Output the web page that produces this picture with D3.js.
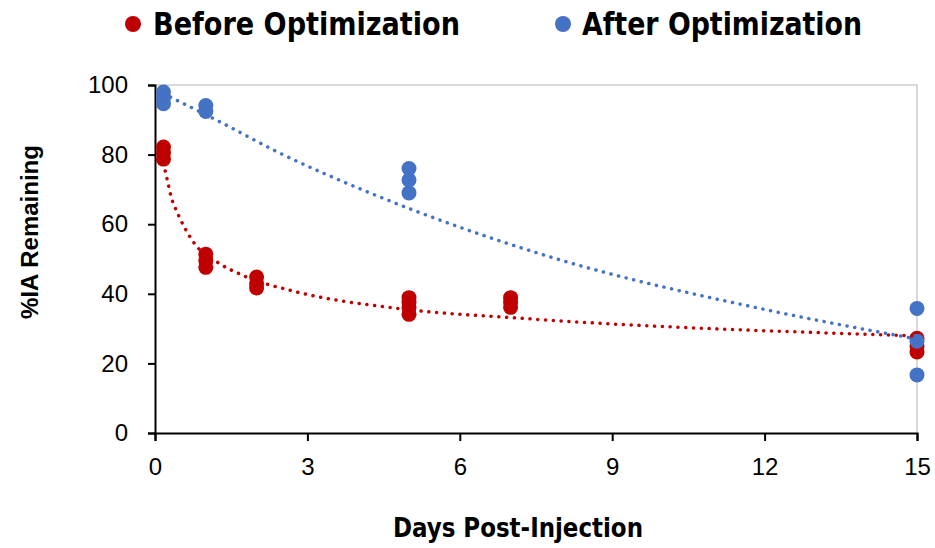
<!DOCTYPE html>
<html><head><meta charset="utf-8">
<script src="https://cdn.jsdelivr.net/npm/d3@7"></script>
<style>body{margin:0;background:#fff}svg{display:block}</style>
</head><body><svg id="c" width="935" height="548"></svg>
<script>
// Data points (days post-injection, %IA remaining)
const beforeX = [0.167,0.167,0.167, 1,1,1, 2,2,2, 5,5,5,5, 7,7,7, 15,15,15];
const beforeY = [82.2,80.5,78.7, 51.4,49.5,47.6, 44.8,43.0,41.7, 38.9,37.5,36.0,34.1, 38.9,37.5,36.1, 27.2,25.0,23.3];
const afterX  = [0.167,0.167,0.167, 1,1, 5,5,5, 15,15,15];
const afterY  = [98.0,96.3,94.6, 94.1,92.4, 76.0,72.7,69.0, 35.8,26.4,16.7];
// Trendlines (dotted fit curves)
const beforeTrendX = [0.167,0.26,0.33,0.39,0.77,1.28,1.71,2.8,4.72,7.38,14.37,15];
const beforeTrendY = [77.5,71.5,67.2,65.0,54.6,48.6,45.4,40.5,35.9,32.8,28.2,27.9];
const afterTrendX  = [0.167,1.28,2.42,4.23,7.78,12,15];
const afterTrendY  = [97.5,89.4,80.7,69.0,50.6,35.5,27.0];
const seriesNames = ["Before Optimization","After Optimization"];
const xTicks = [0,3,6,9,12,15];
const yTicks = [0,20,40,60,80,100];

const svg = d3.select("#c");
const m = {l:155, r:917, t:85, b:433};
const x = d3.scaleLinear().domain([0,15]).range([m.l,m.r]);
const y = d3.scaleLinear().domain([0,100]).range([m.b,m.t]);
const RED="#c00000", BLUE="#4472c4";
const NARROW="'Liberation Sans Narrow','Arial Narrow','DejaVu Sans Condensed',sans-serif";

// plot area border (top/right light grey)
svg.append("path").attr("d",`M${m.l},${m.t}H${m.r}V${m.b}`).attr("fill","none").attr("stroke","#d9d9d9").attr("stroke-width",2);

// axes
const gx = svg.append("g").attr("transform",`translate(0,${m.b})`)
  .call(d3.axisBottom(x).tickValues(xTicks).tickSize(8).tickPadding(17));
const gy = svg.append("g").attr("transform",`translate(${m.l},0)`)
  .call(d3.axisLeft(y).tickValues(yTicks).tickSize(7).tickPadding(20));
[gx,gy].forEach(g=>{
  g.select(".domain").attr("stroke","#000").attr("stroke-width",2);
  g.selectAll(".tick line").attr("stroke","#000").attr("stroke-width",2);
  g.selectAll(".tick text").attr("font-family","'Liberation Sans',Arial,sans-serif").attr("font-size",24).attr("fill","#000");
});

const series = [
  {xs:beforeX, ys:beforeY, tx:beforeTrendX, ty:beforeTrendY, color:RED},
  {xs:afterX, ys:afterY, tx:afterTrendX, ty:afterTrendY, color:BLUE}
];

series.forEach(s=>{
  svg.append("g").selectAll("circle").data(s.xs.map((v,i)=>[v,s.ys[i]])).join("circle")
    .attr("cx",d=>x(d[0])).attr("cy",d=>y(d[1])).attr("r",7.5).attr("fill",s.color);
});
const line = d3.line().x(d=>x(d[0])).y(d=>y(d[1])).curve(d3.curveMonotoneX);
series.forEach(s=>{
  svg.append("path").attr("d",line(s.tx.map((v,i)=>[v,s.ty[i]]))).attr("fill","none").attr("stroke",s.color)
    .attr("stroke-width",3.5).attr("stroke-linecap","round").attr("stroke-dasharray","0.1 7.7");
});

// axis titles
svg.append("text").attr("x",393).attr("y",537)
  .attr("font-family",NARROW).attr("font-weight","bold")
  .attr("font-size",26).attr("textLength",250).attr("lengthAdjust","spacingAndGlyphs").text("Days Post-Injection");
svg.append("text").attr("transform","translate(38,232) rotate(-90)").attr("text-anchor","middle")
  .attr("font-family","'Liberation Sans',Arial,sans-serif").attr("font-weight","bold")
  .attr("font-size",24).text("%IA Remaining");

// legend
const leg=[{cx:133,tx:153,w:307,color:RED,name:seriesNames[0]},{cx:563,tx:582,w:280,color:BLUE,name:seriesNames[1]}];
leg.forEach(l=>{
  svg.append("circle").attr("cx",l.cx).attr("cy",24).attr("r",8).attr("fill",l.color);
  svg.append("text").attr("x",l.tx).attr("y",35)
    .attr("font-family",NARROW).attr("font-weight","bold")
    .attr("font-size",32).attr("textLength",l.w).attr("lengthAdjust","spacingAndGlyphs").text(l.name);
});
</script></body></html>
